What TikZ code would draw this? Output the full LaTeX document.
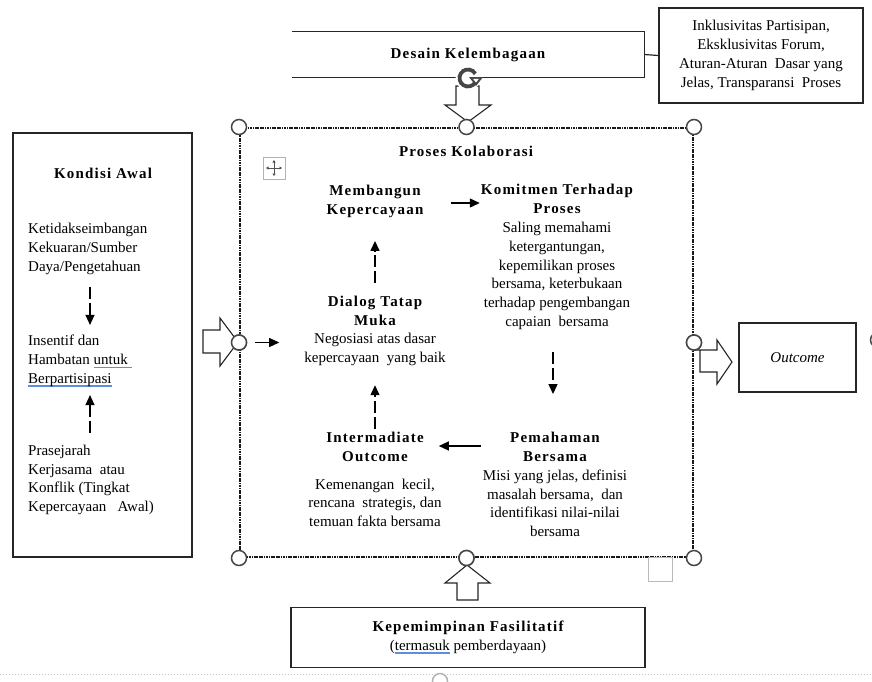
\documentclass[tikz,border=0pt]{standalone}
\usepackage{fontspec}
\setmainfont{Liberation Serif}
\newfontfamily\hbfam{Liberation Serif}[LetterSpace=8]
\usetikzlibrary{arrows.meta,calc}
\definecolor{ulblue}{RGB}{96,140,225}
\newcommand\hb{\hbfam\bfseries}
\newsavebox\myulbox
\newcommand\bluline[1]{\sbox\myulbox{#1}\rlap{\textcolor{ulblue}{\rule[-3.6pt]{\wd\myulbox}{1.5pt}}}\usebox\myulbox}
\begin{document}
\begin{tikzpicture}[x=1pt,y=-1pt,
  font=\fontsize{15}{18.8}\selectfont,
  txt/.style={inner sep=0pt, align=center},
  box/.style={draw=black!85, line width=1.2pt},
  arr/.style={-{Triangle[length=10pt,width=9pt]}, line width=1.3pt},
  darr/.style={arr, dash pattern=on 12pt off 4pt},
  handle/.style={circle, draw=gray!55!black, fill=white, line width=1.5pt, minimum size=15pt, inner sep=0pt},
  hollow/.style={draw=black!85, line width=1.1pt, fill=white, line join=miter},
  frm/.style={draw=black!90, line width=2pt, dash pattern=on 1.2pt off 0.5pt}]
\useasboundingbox (0,0) rectangle (872,681);

% faint dotted line at the bottom
\coordinate (dl) at (0,674);
\coordinate (dr) at (872,674);
\draw[gray!45, dotted, line width=1pt] (dl) -- (dr);
\node[handle, draw=gray!60] (hbot) at (440,681) {};

% Desain Kelembagaan (open on the left)
\node[txt, minimum width=352pt, minimum height=45pt] (desain) at (468,54.5) {\hb Desain Kelembagaan};
\draw[box] (desain.north west) -- (desain.north east) -- (desain.south east) -- (desain.south west);
\node[box, txt, minimum width=204pt, minimum height=95pt] (inkl) at (761,55.5)
  {Inklusivitas Partisipan,\\Eksklusivitas Forum,\\Aturan-Aturan\ \ Dasar yang\\Jelas, Transparansi\ \ Proses};
\draw[box] (desain.east) -- (inkl.west);

% collaboration frame
\node[frm, minimum width=453pt, minimum height=429pt, inner sep=0pt] (fr) at (466.5,342.5) {};

% hollow arrow from Desain
\draw[hollow] (456,86) -- (456,105) -- (445,105) -- (468,122) -- (491,105) -- (479,105) -- (479,86) -- cycle;
% rotate icon
\node[circle, fill=white, minimum size=25pt, inner sep=0pt] (rot) at (468,78) {};
\draw[gray!55!black, line width=3.8pt] (rot.center) ++(10:8.5) arc[start angle=10, end angle=330, radius=8.5];
\fill[gray!55!black] ($(rot.center)+(1,-1)$) -- ($(rot.center)+(15,-1)$) -- ($(rot.center)+(8,8)$) -- cycle;
\fill[white] ($(rot.center)+(5,0.8)$) -- ($(rot.center)+(11,0.8)$) -- ($(rot.center)+(8,4.5)$) -- cycle;

% handles
\foreach \a/\n in {north west/h1, north/h2, north east/h3, west/h4, east/h5, south west/h6, south/h7, south east/h8}
  \node[handle] (\n) at (fr.\a) {};
\node[handle] (hx) at (878,340) {};

% small squares (move icon, corner box)
\node[draw=gray!60, line width=0.8pt, minimum size=22pt, inner sep=0pt] (mv) at (274,168) {};
\draw[gray!65!black, line width=0.7pt, {Triangle[length=2.5pt,width=3pt]}-{Triangle[length=2.5pt,width=3pt]}] ($(mv.center)+(-8,0)$) -- ($(mv.center)+(8,0)$);
\draw[gray!65!black, line width=0.7pt, {Triangle[length=2.5pt,width=3pt]}-{Triangle[length=2.5pt,width=3pt]}] ($(mv.center)+(0,-8)$) -- ($(mv.center)+(0,8)$);
\node[draw=gray!55, line width=0.8pt, minimum size=24pt, inner sep=0pt, anchor=north] (sq) at (660,557) {};

% titles and blocks inside the frame
\node[txt] (title) at (466,151) {\hb Proses Kolaborasi};
\node[txt] (mem) at (375,201.5) {\hb Membangun\\\hb Kepercayaan};
\node[txt] (kom) at (557,257) {\hb Komitmen Terhadap\\\hb Proses\\\normalfont Saling memahami\\ketergantungan,\\kepemilikan proses\\bersama, keterbukaan\\terhadap pengembangan\\capaian\ \ bersama};
\node[txt] (dia) at (375,331) {\hb Dialog Tatap\\\hb Muka\\\normalfont Negosiasi atas dasar\\kepercayaan\ \ yang baik};
\node[txt] (pem) at (555,484.5) {\hb Pemahaman\\\hb Bersama\\\normalfont Misi yang jelas, definisi\\masalah bersama,\ \ dan\\identifikasi nilai-nilai\\bersama};
\node[txt] (int) at (375,479.5) {\hb Intermadiate\\\hb Outcome\\[9pt]\normalfont Kemenangan\ \ kecil,\\rencana\ \ strategis, dan\\temuan fakta bersama};

% arrows in the cycle
\draw[arr, shorten <=27pt, shorten >=1pt] (mem.east |- 0,203) -- (kom.north west |- 0,203);
\draw[darr, shorten <=13pt, shorten >=23pt] (dia.north) -- (mem.south);
\draw[darr, shorten <=22pt, shorten >=38pt] (kom.south -| 553,0) -- (pem.north -| 553,0);
\draw[arr, shorten <=2pt, shorten >=-3pt] (pem.west |- 0,446) -- (int.east |- 0,446);
\draw[darr, shorten <=3pt, shorten >=19pt] (int.north) -- (dia.south);
\draw[arr, shorten <=8pt, shorten >=25pt] (h4.east) -- (dia.west |- h4.east);

% Kondisi Awal
\node[box, minimum width=179pt, minimum height=424pt, inner sep=0pt] (kond) at (102.5,345) {};
\node[txt] (kt) at (103,173) {\hb Kondisi Awal};
\node[txt, align=left, anchor=west] (ket) at (28,249) {Ketidakseimbangan\\Kekuaran/Sumber\\Daya/Pengetahuan};
\node[txt, align=left, anchor=west] (ins) at (28,361) {Insentif dan\\Hambatan \bluline{untuk\ }\\\bluline{Berpartisipasi}};
\node[txt, align=left, anchor=west] (pra) at (28,480) {Prasejarah\\Kerjasama\ \ atau\\Konflik (Tingkat\\Kepercayaan\ \ \ Awal)};
\coordinate (ax) at (90,0);
\draw[darr, shorten <=12pt, shorten >=10pt] (ket.south -| ax) -- (ins.north -| ax);
\draw[darr, shorten <=12pt, shorten >=8pt] (pra.north -| ax) -- (ins.south -| ax);

% hollow arrow into the frame
\draw[hollow] (203,330) -- (220,330) -- (220,318) -- (238,342) -- (220,366) -- (220,353) -- (203,353) -- cycle;
\node[handle] at (h4) {};

% Outcome
\draw[hollow] (693,350) -- (717,350) -- (717,340) -- (732,362) -- (717,384) -- (717,372) -- (700,372) -- (700,350);
\node[handle] at (h5) {};
\node[box, txt, minimum width=117pt, minimum height=69pt] (out) at (797.5,357.5) {\itshape Outcome};

% Kepemimpinan
\draw[hollow] (457,600) -- (457,583) -- (445,583) -- (467,565) -- (490,583) -- (478,583) -- (478,600) -- cycle;
\node[handle] at (h7) {};
\node[box, txt, minimum width=354pt, minimum height=60pt] (kep) at (468,637.5)
  {\hb Kepemimpinan Fasilitatif\\\normalfont(\bluline{termasuk} pemberdayaan)};
\end{tikzpicture}
\end{document}
